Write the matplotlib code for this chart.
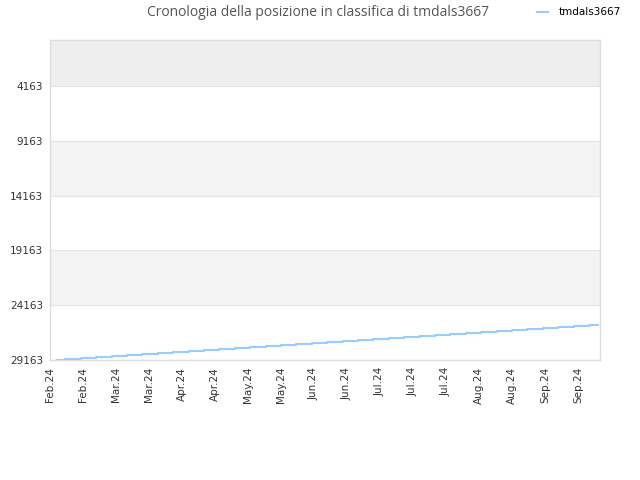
import datetime as dt
import matplotlib
matplotlib.use("Agg")
import matplotlib.pyplot as plt
import matplotlib.dates as mdates

# weekly ranking (lower is better), first point then one value per weekly update
start_date = dt.date(2024, 2, 5)
first_step = dt.date(2024, 2, 9)
end_date = dt.date(2024, 10, 8)
ranks = [29163, 29070, 28975, 28884, 28790, 28700, 28607, 28515, 28428, 28335,
         28246, 28152, 28061, 27970, 27878, 27790, 27698, 27606, 27515, 27424,
         27332, 27241, 27150, 27058, 26967, 26876, 26784, 26693, 26601, 26510,
         26418, 26327, 26236, 26144, 26052, 25960]
ytick_values = [4163, 9163, 14163, 19163, 24163, 29163]
axis_start = dt.date(2024, 2, 2)
axis_end = dt.date(2024, 10, 9)

dates = [start_date] + [first_step + dt.timedelta(days=7 * k) for k in range(len(ranks) - 1)]
dates.append(end_date)
values = ranks + [ranks[-1]]

fig = plt.figure(figsize=(6.4, 4.8), dpi=100)
ax = fig.add_axes([50 / 640, 1 - 360 / 480, 550 / 640, 320 / 480])

ytop = -35
ybottom = ytick_values[-1]
# alternating bands
edges = [ytop] + ytick_values
for i in range(len(edges) - 1):
    if i == 0:
        col = "#eeeeee"
    elif i % 2 == 0:
        col = "#f3f3f3"
    else:
        col = "white"
    ax.axhspan(edges[i], edges[i + 1], color=col, zorder=0, lw=0)
for v in ytick_values:
    ax.axhline(v, color="#e3e3e3", lw=0.8, zorder=1)

ax.plot(dates, values, drawstyle="steps-post", color="#99ccff", lw=1.5, zorder=3,
        label="tmdals3667")

ax.set_ylim(ybottom, ytop)
ax.set_xlim(axis_start, axis_end)
ax.set_yticks(ytick_values)
ax.set_yticklabels([str(v) for v in ytick_values])

ticks = [axis_start + dt.timedelta(days=15 * k) for k in range(17)]
ax.set_xticks(ticks)
ax.xaxis.set_major_formatter(mdates.DateFormatter("%b.%y"))
plt.setp(ax.get_xticklabels(), rotation=90)

ax.tick_params(axis="both", length=0, labelsize=7.5, colors="#333333", pad=5)
for s in ax.spines.values():
    s.set_color("#dddddd")
    s.set_linewidth(1)

fig.text(318 / 640, 1 - 12 / 480, "Cronologia della posizione in classifica di tmdals3667",
         ha="center", va="center", fontsize=10, color="#555555", family="Open Sans")
fig.legend(loc="upper right", bbox_to_anchor=(0.981, 1.0), frameon=False, fontsize=7.5,
           handlelength=1, borderaxespad=0.3, handletextpad=1)

fig.savefig("out.png", dpi=100)
